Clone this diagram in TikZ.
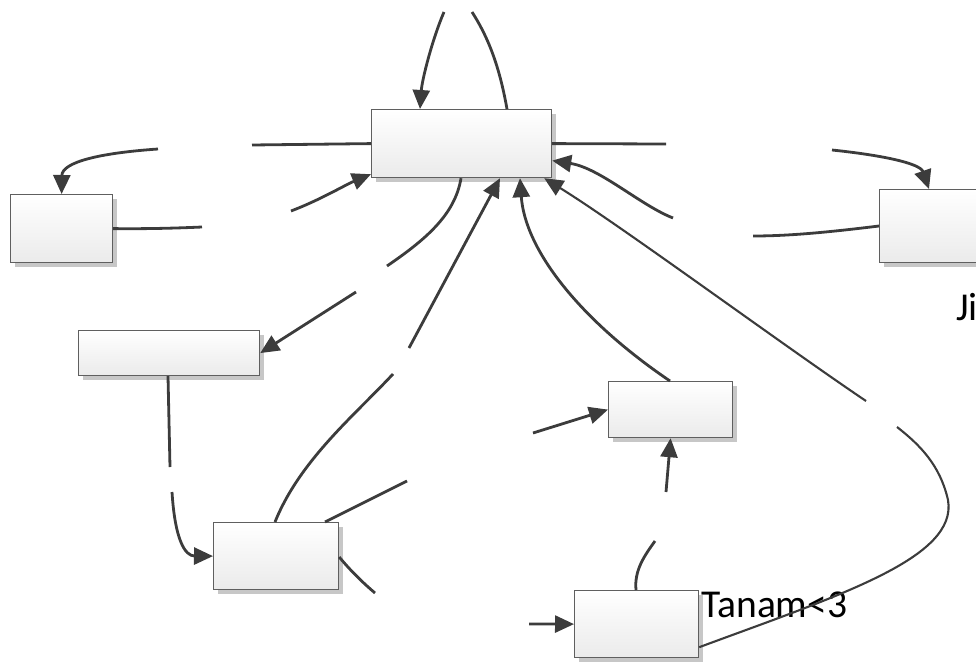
\documentclass[tikz,border=0pt]{standalone}
\usepackage{fontspec}
\setmainfont{Carlito}
\usetikzlibrary{arrows.meta,shadows,calc}
\definecolor{lncol}{HTML}{3C3C3C}
\definecolor{bdcol}{HTML}{5F5F5F}
\begin{document}
\begin{tikzpicture}[x=1pt,y=-1pt,
  box/.style={draw=bdcol, line width=1.2pt, top color=white, bottom color=black!8, rectangle, inner sep=0pt, anchor=north west,
    drop shadow={shadow xshift=4pt, shadow yshift=-4pt, fill=black!22, opacity=1}},
  conn/.style={draw=lncol, line width=2.8pt},
  thinconn/.style={draw=lncol, line width=2.1pt},
  arr/.style={conn, -{Triangle[length=19pt,width=17pt]}},
  thinarr/.style={thinconn, -{Triangle[length=19pt,width=17pt]}},
  lbl/.style={font=\fontsize{39.5}{43}\selectfont, inner sep=0pt, anchor=base west}]
\useasboundingbox (0,0) rectangle (976,661);
\clip (0,0) rectangle (976,661);

% texts
\node[lbl] (t1) at (701,617) {Tanam<3};
\node[lbl] (t2) at (956,320) {Ji};

% boxes
\node[box, minimum width=180pt, minimum height=68pt] (C) at (371,109) {};
\node[box, minimum width=102pt, minimum height=68pt] (L) at (10,194) {};
\node[box, minimum width=130pt, minimum height=73pt] (R) at (879,189) {};
\node[box, minimum width=181pt, minimum height=45pt] (A) at (78,330) {};
\node[box, minimum width=125pt, minimum height=67pt] (B) at (213,522) {};
\node[box, minimum width=124pt, minimum height=56pt] (D) at (608,381) {};
\node[box, minimum width=124pt, minimum height=67pt] (E) at (574,590) {};

% free ends at label gaps
\coordinate (g1a) at (472,12);
\coordinate (g1b) at (444,12);
\coordinate (g2a) at (252,145);
\coordinate (g2b) at (158,149);
\coordinate (g3a) at (202,227);
\coordinate (g3b) at (291,211);
\coordinate (g4a) at (666,144);
\coordinate (g4b) at (832,150);
\coordinate (g5a) at (753,236);
\coordinate (g5b) at (673,218);
\coordinate (g6a) at (897,427);
\coordinate (g6b) at (866,401);
\coordinate (g7a) at (387,266);
\coordinate (g7b) at (356,292);
\coordinate (g8a) at (393,374);
\coordinate (g8b) at (409,348);
\coordinate (g9a) at (407,481);
\coordinate (g9b) at (533,433);
\coordinate (g10a) at (375,593);
\coordinate (g10b) at (529,624);
\coordinate (g12a) at (655,541);
\coordinate (g12b) at (666,492);
\coordinate (g13a) at (170,467);
\coordinate (g13b) at (172,492);

% 1: self loop on top
\draw[conn] ([xshift=136pt]C.north west) .. controls (500,70) and (490,40) .. (g1a);
\draw[arr] (g1b) .. controls (432,40) and (422,80) .. ([xshift=49pt]C.north west);
% 2: C -> L
\draw[conn] (C.west) -- (g2a);
\draw[arr] (g2b) .. controls (100,153) and (62,162) .. (L.north);
% 3: L -> C
\draw[conn] (L.east) .. controls (150,229) and (180,228) .. (g3a);
\draw[arr] (g3b) .. controls (320,200) and (345,185) .. ([yshift=4pt]C.south west);
% 4: C -> R
\draw[conn] (C.east) -- (g4a);
\draw[arr] (g4b) .. controls (880,155) and (920,163) .. ([xshift=50pt]R.north west);
% 5: R -> C
\draw[conn] ([yshift=-37pt]R.north west) .. controls (830,232) and (790,236) .. (g5a);
\draw[arr] (g5b) .. controls (640,205) and (600,168) .. ([yshift=-17pt]C.east);
% 6: E -> C (long loop)
\draw[thinconn] ([yshift=11pt]E.south east) .. controls (840,595) and (958,558) .. (948,500) .. controls (940,465) and (920,445) .. (g6a);
\draw[thinarr] (g6b) .. controls (780,343) and (620,225) .. ([xshift=-8pt]C.south east);
% 7: C -> A
\draw[conn] ([xshift=90pt]C.south west) .. controls (455,215) and (425,240) .. (g7a);
\draw[arr] (g7b) -- (A.east);
% 8: B -> C
\draw[conn] ([xshift=62pt]B.north west) .. controls (300,460) and (355,415) .. (g8a);
\draw[arr] (g8b) -- ([xshift=129pt]C.south west);
% 9: B -> D
\draw[conn] ([xshift=112pt]B.north west) -- (g9a);
\draw[arr] (g9b) -- (D.west);
% 10: B -> E
\draw[conn] ([yshift=-35pt]B.north east) .. controls (350,570) and (362,582) .. (g10a);
\draw[arr] (g10b) -- (E.west);
% 11: D -> C
\draw[arr] ([xshift=62pt]D.north west) .. controls (580,320) and (525,250) .. ([xshift=149pt]C.south west);
% 12: E -> D
\draw[conn] ([xshift=62pt]E.north west) .. controls (634,570) and (645,555) .. (g12a);
\draw[arr] (g12b) -- (D.south);
% 13: A -> B
\draw[conn] ([xshift=90pt]A.south west) -- (g13a);
\draw[arr] (g13b) .. controls (175,540) and (185,556) .. (B.west);
\end{tikzpicture}
\end{document}
